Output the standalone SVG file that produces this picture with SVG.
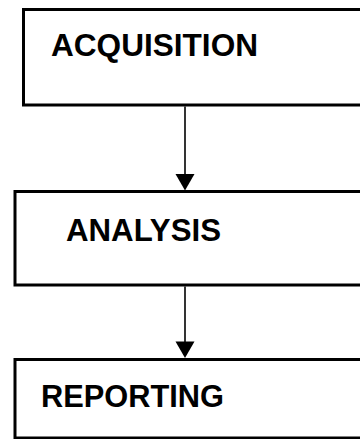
<svg xmlns="http://www.w3.org/2000/svg" width="360" height="439" viewBox="0 0 360 439">
<defs>
<style>
.box{fill:#ffffff;stroke:#000000;stroke-width:3}
.lbl{font-family:"Liberation Sans",Arial,sans-serif;font-weight:bold;font-size:32px;fill:#000000}
.conn{stroke:#000000;stroke-width:1.6;fill:none}
.head{fill:#000000}
</style>
<polygon id="arrowhead" class="head" points="-9.5,0 9.5,0 0,16.5"/>
</defs>
<rect width="360" height="439" fill="#ffffff"/>
<g id="acquisition">
<rect class="box" x="23.5" y="9.5" width="350" height="95.5"/>
<text class="lbl" x="51" y="56" textLength="207" lengthAdjust="spacingAndGlyphs">ACQUISITION</text>
</g>
<g id="analysis">
<rect class="box" x="15" y="191.5" width="360" height="93.5"/>
<text class="lbl" x="66" y="241" textLength="155" lengthAdjust="spacingAndGlyphs">ANALYSIS</text>
</g>
<g id="reporting">
<rect class="box" x="15" y="359.5" width="360" height="78.5"/>
<text class="lbl" x="41" y="407" textLength="183" lengthAdjust="spacingAndGlyphs">REPORTING</text>
</g>
<g id="connectors">
<line class="conn" x1="185" y1="106.5" x2="185" y2="176"/>
<use href="#arrowhead" x="185" y="174"/>
<line class="conn" x1="185" y1="286.5" x2="185" y2="342"/>
<use href="#arrowhead" x="185" y="341.5"/>
</g>
</svg>
